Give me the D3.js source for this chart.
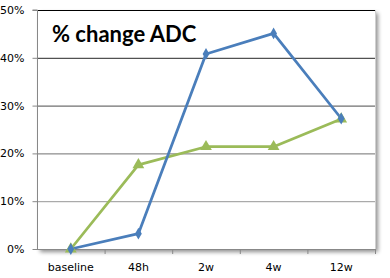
<!DOCTYPE html>
<html><head><meta charset="utf-8">
<script src="https://cdn.jsdelivr.net/npm/d3@7"></script>
<style>body{margin:0;background:#fff}svg{display:block}</style>
</head><body>
<svg id="c" width="390" height="278"></svg>
<script>
const categories = ["baseline","48h","2w","4w","12w"];
const seriesBlue = [0, 3.2, 40.8, 45.1, 27.3];
const seriesGreen = [0, 17.6, 21.4, 21.4, 27.2];
const yTicks = [0,10,20,30,40,50];
const title = "% change ADC";

const svg = d3.select("#c");
const L=37, R=375, T=10, B=249;
const x = d3.scaleBand().domain(categories).range([L,R]).padding(0);
const y = d3.scaleLinear().domain([0,50]).range([B,T]);
const cx = d => x(d)+x.bandwidth()/2;

const defs = svg.append("defs");
const f = defs.append("filter").attr("id","sh").attr("x","-5%").attr("y","-5%").attr("width","115%").attr("height","115%");
f.append("feGaussianBlur").attr("in","SourceAlpha").attr("stdDeviation",2);
f.append("feOffset").attr("dx",3).attr("dy",3).attr("result","o");
const ft=f.append("feComponentTransfer"); ft.append("feFuncA").attr("type","linear").attr("slope",0.45);
const fm=f.append("feMerge"); fm.append("feMergeNode"); fm.append("feMergeNode").attr("in","SourceGraphic");

// plot area with shadow
svg.append("rect").attr("x",L).attr("y",T).attr("width",R-L).attr("height",B-T)
  .attr("fill","#fff").attr("filter","url(#sh)");

const gridCol = d3.scaleLinear().domain([50,0]).range(["#000","#bdbdbd"]);
svg.append("g").selectAll("line").data(yTicks.filter(d=>d>0)).join("line")
  .attr("x1",L).attr("x2",R).attr("y1",d=>y(d)+0.5).attr("y2",d=>y(d)+0.5)
  .attr("stroke",d=>gridCol(d)).attr("stroke-width",1);
// right border
svg.append("line").attr("x1",R+0.5).attr("x2",R+0.5).attr("y1",T).attr("y2",B).attr("stroke","#d0d0d0");

// axes
const ya = svg.append("g").attr("transform",`translate(${L+0.5},0)`)
  .call(d3.axisLeft(y).tickValues(yTicks).tickFormat(d=>d+"%").tickSize(5).tickPadding(8));
const xa = svg.append("g").attr("transform",`translate(0,${B+0.5})`)
  .call(d3.axisBottom(x).tickSize(0).tickPadding(14));
svg.append("g").selectAll("line").data(categories.slice(1).concat([null])).join("line")
  .attr("x1",(d,i)=>L+x.bandwidth()*(i+1)+0.5).attr("x2",(d,i)=>L+x.bandwidth()*(i+1)+0.5)
  .attr("y1",B).attr("y2",B+5).attr("stroke","#888");
[ya,xa].forEach(a=>{
  a.select(".domain").attr("stroke","#888");
  a.selectAll(".tick line").attr("stroke","#888");
  a.selectAll("text").attr("font-family","Tahoma, 'DejaVu Sans', sans-serif").attr("font-size",11).attr("fill","#000");
});
xa.selectAll("text").attr("font-size",11);
ya.select(".domain").attr("d",`M-5,${T}H0V${B}`);
xa.select(".domain").attr("d",`M${L},0H${R}`);

// lines
const line = d3.line().x((d,i)=>cx(categories[i])).y(d=>y(d));
svg.append("path").datum(seriesGreen).attr("d",line).attr("fill","none")
  .attr("stroke","#9bbb59").attr("stroke-width",2.75).attr("stroke-linejoin","round");
svg.append("path").datum(seriesBlue).attr("d",line).attr("fill","none")
  .attr("stroke","#4a7ebb").attr("stroke-width",2.75).attr("stroke-linejoin","round");

svg.append("g").selectAll("path").data(seriesGreen).join("path")
  .attr("d",d3.symbol(d3.symbolTriangle,60))
  .attr("transform",(d,i)=>`translate(${cx(categories[i])},${y(d)})`).attr("fill","#9bbb59");
svg.append("g").selectAll("path").data(seriesBlue).join("path")
  .attr("d",d3.symbol(d3.symbolDiamond,40))
  .attr("transform",(d,i)=>`translate(${cx(categories[i])},${y(d)})`).attr("fill","#4a7ebb");

svg.append("text").attr("x",52).attr("y",42).text(title)
  .attr("font-family","Lato, 'Open Sans', sans-serif").attr("font-weight","bold")
  .attr("font-size",22).attr("fill","#000");
</script>
</body></html>
